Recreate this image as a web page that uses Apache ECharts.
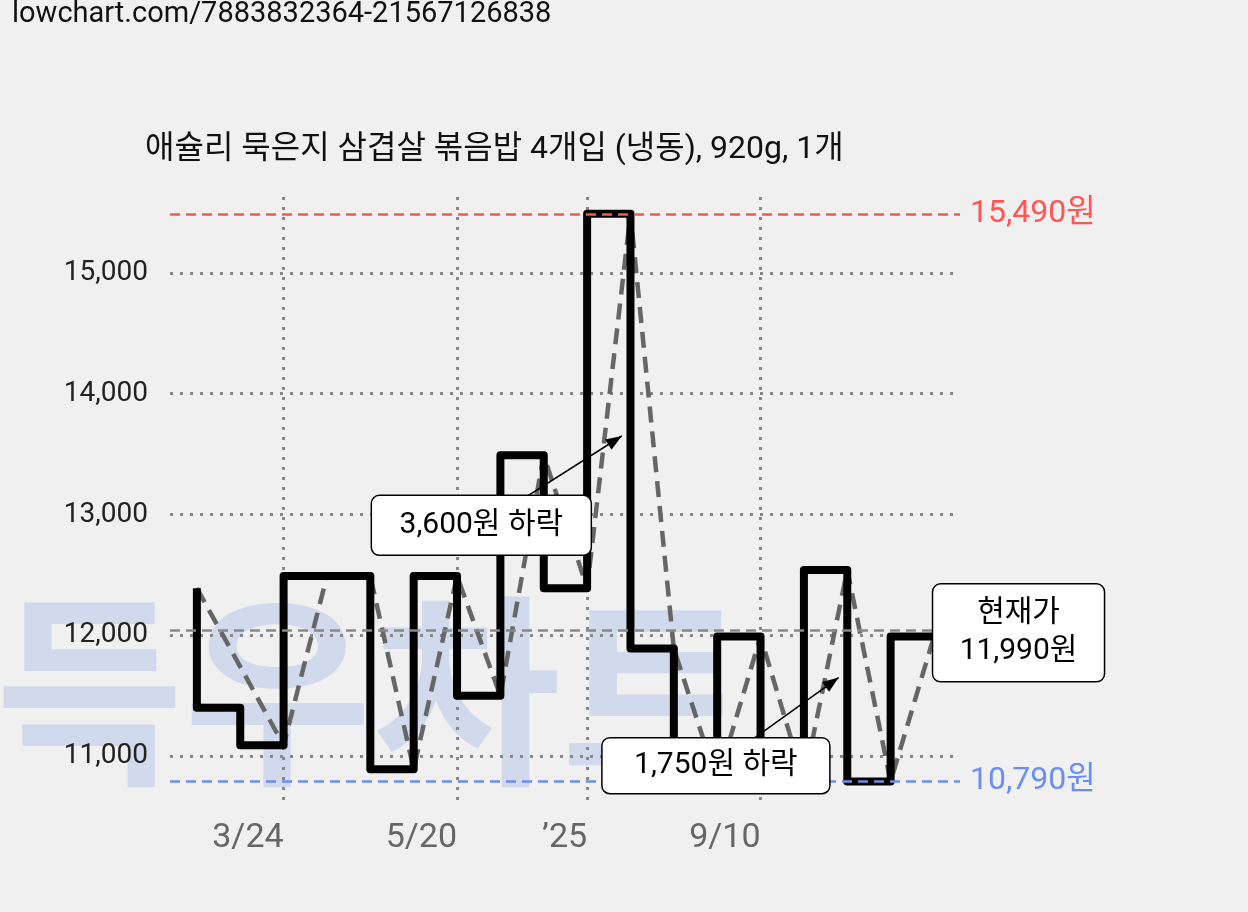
<!DOCTYPE html>
<html><head><meta charset="utf-8">
<script src="https://cdn.jsdelivr.net/npm/echarts@6/dist/echarts.min.js"></script>
<style>html,body{margin:0;background:#f0f0f0}#c{width:1248px;height:912px}</style>
</head><body><div id="c"></div>
<script>
const title = '애슐리 묵은지 삼겹살 볶음밥 4개입 (냉동), 920g, 1개';
const stepX = [0,0,1,2,3,4,5,6,7,8,9,10,11,12,13,14,15,16,17];
const stepY = [12390,11400,11090,12490,12490,10890,12490,11500,13490,12390,15490,11890,10790,11990,10790,12540,10790,11990,11990];
const dashX = [0,2,3,4,5,6,7,8,9,10,11,12,13,14,15,16,17];
const dashY = [12390,11090,12490,12490,10890,12490,11500,13490,12390,15490,11890,10790,11990,10790,12540,10790,11990];
const tickPos = [2,6,9,13];
const tickLabels = ['3/24','5/20','’25','9/10'];
const yTicks = [11000,12000,13000,14000,15000];
const maxV = 15490, minV = 10790, avgV = 12040, curV = 11990;

const chart = echarts.init(document.getElementById('c'));
const F = 'Roboto, "Noto Sans CJK KR", sans-serif';
chart.setOption({
  backgroundColor:'#f0f0f0',
  animation:false,
  grid:{left:170,right:288,top:190,bottom:112},
  xAxis:{type:'value',min:-0.62,max:17.6,
    axisLine:{show:false},axisTick:{show:false},splitLine:{show:false},
    axisLabel:{customValues:tickPos,formatter:v=>tickLabels[tickPos.indexOf(v)],align:'right',
      fontSize:34,color:'#666',fontFamily:F,margin:22}},
  yAxis:{type:'value',min:10636,max:15687,
    axisLine:{show:false},axisTick:{show:false},splitLine:{show:false},
    axisLabel:{customValues:yTicks,formatter:v=>v.toLocaleString('en-US'),fontSize:28,color:'#222',fontFamily:F,margin:22}},
  series:[
    {type:'line',data:[],silent:true,z:1,
     markLine:{symbol:'none',silent:true,label:{show:false},z:1,
       lineStyle:{color:'#888',type:[3,7],width:3},
       data:yTicks.map(v=>({yAxis:v})).concat(tickPos.map(v=>({xAxis:v})))}},
    {type:'line',data:dashX.map((x,i)=>[x,dashY[i]]),symbol:'none',
     lineStyle:{color:'#666',width:4.5,type:[16,9]},z:3},
    {type:'line',step:'end',data:stepX.map((x,i)=>[x,stepY[i]]),symbol:'none',
     lineStyle:{color:'#000',width:8,join:'round'},z:4,
     markLine:{symbol:'none',silent:true,z:5,data:[
       {yAxis:maxV,lineStyle:{color:'#ff5555',type:[10,6],width:2.5},label:{formatter:'15,490원',color:'#ff5555',fontSize:32,fontFamily:F,distance:10}},
       {yAxis:minV,lineStyle:{color:'#6b8ef0',type:[10,6],width:2.5},label:{formatter:'10,790원',color:'#6b8ef0',fontSize:32,fontFamily:F,distance:10}},
       {yAxis:avgV,lineStyle:{color:'#888',type:[10,6],width:2.5},label:{formatter:'           평균',color:'#888',fontSize:28,fontFamily:F,distance:10}}
     ]}}
  ]
});

function annot(tip, box, text, w, h){
  const t = chart.convertToPixel('grid', tip);
  const b = chart.convertToPixel('grid', box);
  const a=Math.atan2(t[1]-b[1],t[0]-b[0]),L=16,W=6;
  return [
    {type:'line',shape:{x1:b[0],y1:b[1],x2:t[0],y2:t[1]},style:{stroke:'#000',lineWidth:1.5},z:10},
    {type:'polygon',z:10,shape:{points:[[t[0],t[1]],[t[0]-L*Math.cos(a)+W*Math.sin(a),t[1]-L*Math.sin(a)-W*Math.cos(a)],[t[0]-L*Math.cos(a)-W*Math.sin(a),t[1]-L*Math.sin(a)+W*Math.cos(a)]]},style:{fill:'#000'}},
    {type:'rect',z:11,shape:{x:b[0]-w/2,y:b[1]-h/2,width:w,height:h,r:8},style:{fill:'#fff',stroke:'#000',lineWidth:1.5}},
    {type:'text',z:12,x:b[0],y:b[1],style:{text:text,fontSize:30,fill:'#000',fontFamily:F,align:'center',verticalAlign:'middle',lineHeight:38}}
  ];
}
const base = [
  {type:'text',left:12,top:0,style:{text:'lowchart.com/7883832364-21567126838',fontSize:29,fill:'#111',fontFamily:F}},
  {type:'text',left:145,top:134,style:{text:title,fontSize:32,fill:'#111',fontFamily:F}},
  {type:'text',x:-5,y:588,z:-1,style:{text:'득우차트',fontSize:205,fontWeight:'bold',fill:'rgba(140,170,230,0.3)',fontFamily:'"Noto Sans CJK KR"'}}
];
chart.setOption({graphic:{elements:base.concat(
  annot([9.8,13650],[6.56,12910],'3,600원 하락',220,60),
  annot([14.8,11650],[11.97,10920],'1,750원 하락',228,56),
  annot([17.05,12020],[18.95,12020],'현재가\n11,990원',172,98)
)}});
</script></body></html>
